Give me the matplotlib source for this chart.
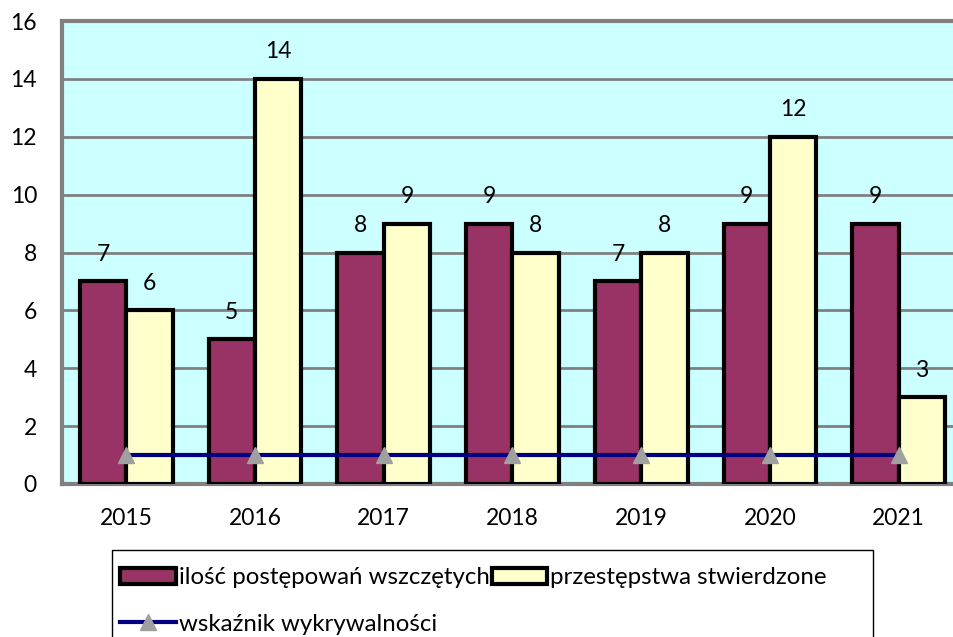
import matplotlib
matplotlib.use("Agg")
import matplotlib.pyplot as plt
import numpy as np
from matplotlib.patches import Patch, Rectangle
from matplotlib.lines import Line2D

years = ["2015", "2016", "2017", "2018", "2019", "2020", "2021"]
wszczete = [7, 5, 8, 9, 7, 9, 9]
stwierdzone = [6, 14, 9, 8, 8, 12, 3]
wskaznik = [1, 1, 1, 1, 1, 1, 1]

plt.rcParams['font.family'] = ['Lato', 'DejaVu Sans']
FS = 16.5

fig = plt.figure(figsize=(9.54, 6.37), dpi=100)
W, H = 954, 637
left, right, top, bottom = 62, 963, 21, 484
ax = fig.add_axes([left / W, 1 - bottom / H, (right - left) / W, (bottom - top) / H])
ax.set_facecolor("#CCFFFF")

x = np.arange(len(years))
bw = 0.36
ax.bar(x - bw / 2, wszczete, bw, color="#993366", edgecolor="black", linewidth=3, zorder=3)
ax.bar(x + bw / 2, stwierdzone, bw, color="#FFFFCC", edgecolor="black", linewidth=3, zorder=3)
ax.plot(x, wskaznik, color="#000080", linewidth=3, marker="^", markersize=11,
        markerfacecolor="#A0A0A0", markeredgecolor="#A0A0A0", zorder=4)

for xi, v in zip(x - bw / 2, wszczete):
    ax.annotate(str(v), (xi, v), xytext=(0, 12), textcoords="offset points",
                ha="center", va="bottom", fontsize=FS)
for xi, v in zip(x + bw / 2, stwierdzone):
    ax.annotate(str(v), (xi, v), xytext=(0, 12), textcoords="offset points",
                ha="center", va="bottom", fontsize=FS)

ax.set_xlim(-0.5, len(years) - 0.5)
ax.set_ylim(0, 16)
ax.set_yticks(range(0, 17, 2))
ax.set_xticks(x)
ax.set_xticklabels(years)
ax.tick_params(axis="both", length=0, labelsize=FS)
ax.tick_params(axis="x", pad=17)
ax.tick_params(axis="y", pad=18)
ax.yaxis.grid(True, color="#808080", linewidth=2, zorder=1)
ax.set_axisbelow(True)
for s in ["left", "top", "bottom"]:
    ax.spines[s].set_color("#808080")
    ax.spines[s].set_linewidth(3)
ax.spines["right"].set_visible(False)

# legend frame
fig.patches.append(Rectangle((112 / W, -0.05), (873 - 112) / W, (1 - 550 / H) + 0.05,
                             transform=fig.transFigure, facecolor="white",
                             edgecolor="black", linewidth=1, zorder=0))

h1 = Patch(facecolor="#993366", edgecolor="black", linewidth=3)
h2 = Patch(facecolor="#FFFFCC", edgecolor="black", linewidth=3)
h3 = Line2D([], [], color="#000080", linewidth=3, marker="^", markersize=11,
            markerfacecolor="#A0A0A0", markeredgecolor="#A0A0A0")
leg = fig.legend([h1, h3, h2],
                 ["ilość postępowań wszczętych", "wskaźnik wykrywalności", "przestępstwa stwierdzone"],
                 ncol=2, loc="upper left", bbox_to_anchor=(106 / W, 1 - 553 / H),
                 fontsize=17.3, frameon=False,
                 handlelength=2.3, handletextpad=0.12, columnspacing=0.1,
                 labelspacing=1.05, borderpad=0.6, borderaxespad=0)

fig.savefig("out.png", dpi=100)
